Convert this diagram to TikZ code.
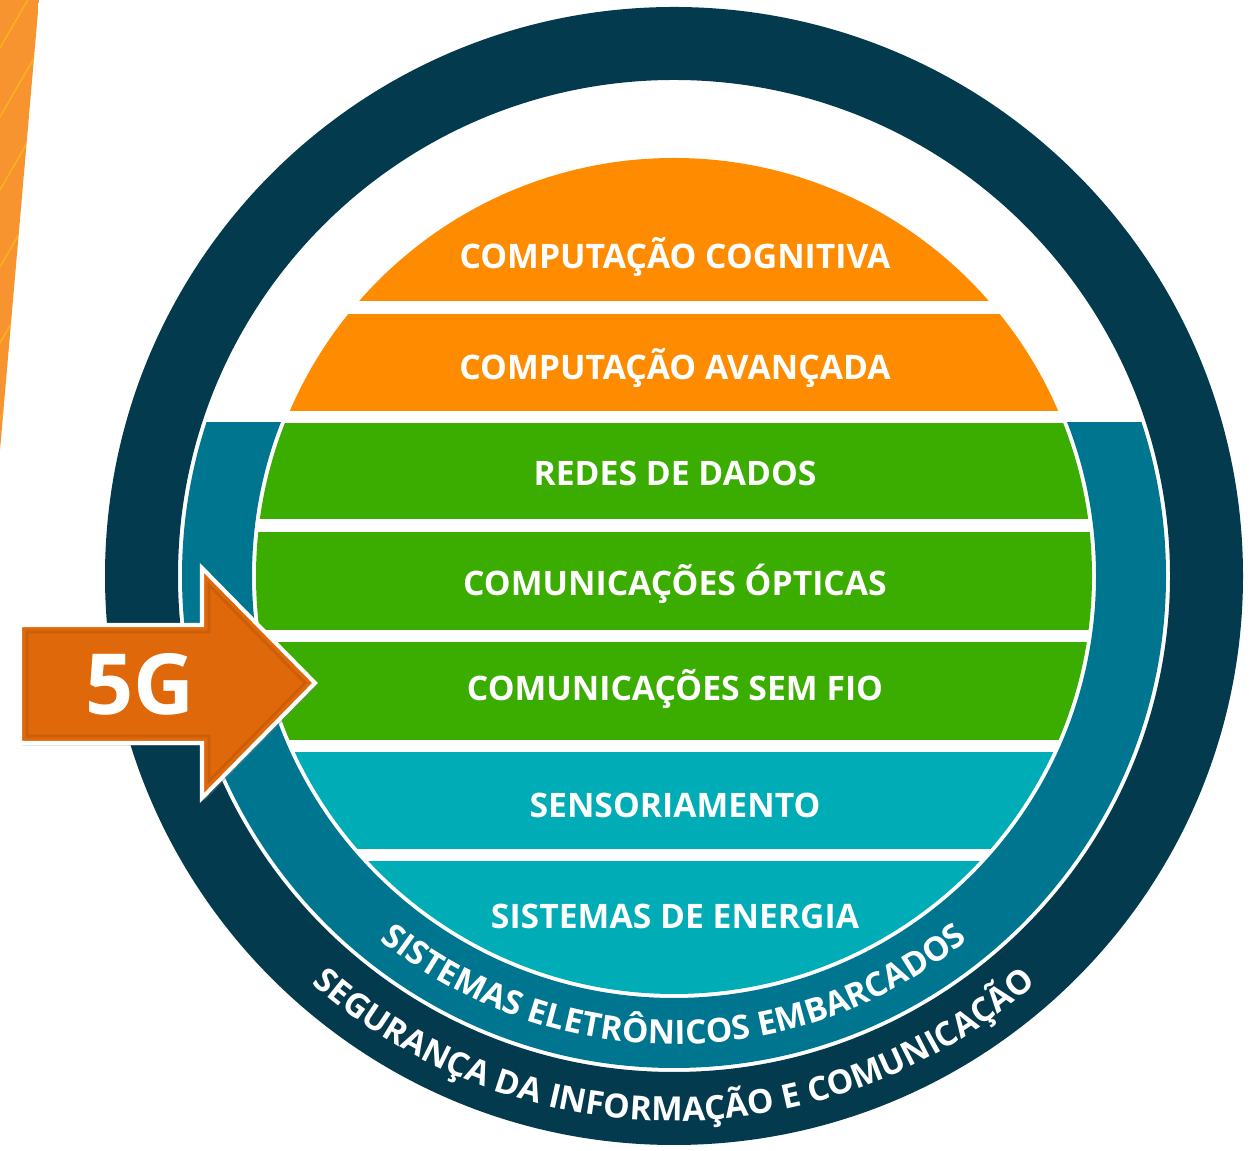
\documentclass[tikz,border=0pt]{standalone}
\usepackage{fontspec}
\setmainfont{Open Sans}
\definecolor{ringnavy}{RGB}{3,58,77}
\definecolor{ringteal}{RGB}{0,117,143}
\definecolor{bandorange}{RGB}{255,140,0}
\definecolor{bandgreen}{RGB}{58,173,0}
\definecolor{bandcyan}{RGB}{0,172,182}
\definecolor{arroworange}{RGB}{223,104,10}
\definecolor{stripeorange}{RGB}{247,148,48}
\usetikzlibrary{decorations.text,shadows}
\newcommand{\curvedfont}{\fontsize{19}{23}\selectfont\bfseries\color{white}}

\begin{document}
\begin{tikzpicture}[x=0.02cm, y=0.02cm,
    bandlabel/.style={text=white, font=\fontsize{19.2}{23}\selectfont\bfseries, inner sep=0pt},
    curvedlabel/.style={decorate, decoration={text along path, text align=center, text={|\curvedfont|#1}}}]
  \useasboundingbox (0,0) rectangle (1250,1151);
  \coordinate (c) at (674,575);

  % Orange stripe, top left
  \begin{scope}
    \clip (0,1151) -- (39,1151) -- (0,701) -- cycle;
    \fill[stripeorange] (0,701) rectangle (39,1151);
    \foreach \y in {1103,1034,961,884,808,732}
      \draw[yellow!60!orange, opacity=.6, line width=0.8pt] (0,\y) -- ++(60:120);
  \end{scope}

  % Outer ring
  \fill[ringnavy, even odd rule] (c) circle (569) (c) circle (496);

  % Inner ring, lower part only
  \begin{scope}
    \clip (0,0) rectangle (1250,728);
    \fill[ringteal, even odd rule] (c) circle (492) (c) circle (422);
  \end{scope}

  % Layers
  \begin{scope}
    \clip (c) circle (418);
    \fill[bandorange] (0,850) rectangle (1250,1000);
    \fill[bandorange] (0,740) rectangle (1250,837);
    \fill[bandgreen]  (0,632) rectangle (1250,728);
    \fill[bandgreen]  (0,521) rectangle (1250,619);
    \fill[bandgreen]  (0,411) rectangle (1250,509);
    \fill[bandcyan]   (0,302) rectangle (1250,399);
    \fill[bandcyan]   (0,100) rectangle (1250,290);
  \end{scope}

  % Layer labels
  \node[bandlabel] (cognitiva) at (675,894) {COMPUTAÇÃO COGNITIVA};
  \node[bandlabel] (avancada)  at (675,783) {COMPUTAÇÃO AVANÇADA};
  \node[bandlabel] (redes)     at (675,678) {REDES DE DADOS};
  \node[bandlabel] (opticas)   at (675,567) {COMUNICAÇÕES ÓPTICAS};
  \node[bandlabel] (semfio)    at (675,462) {COMUNICAÇÕES SEM FIO};
  \node[bandlabel] (sensor)    at (675,346) {SENSORIAMENTO};
  \node[bandlabel] (energia)   at (675,235) {SISTEMAS DE ENERGIA};

  % Ring labels
  \path[curvedlabel={SISTEMAS ELETRÔNICOS EMBARCADOS}] (c) ++(200:468) arc (200:340:468);
  \path[curvedlabel={SEGURANÇA DA INFORMAÇÃO E COMUNICAÇÃO}] (c) ++(200:545) arc (200:340:545);

  % 5G arrow
  \path[fill=arroworange, draw=white, line width=2.3pt, line join=miter,
        drop shadow={shadow xshift=1.5pt, shadow yshift=-1.5pt, opacity=.35}]
    (20,408) -- (20,526) -- (202,526) -- (202,583) -- (315,468) -- (202,353) -- (202,408) -- cycle;
  \draw[arroworange!75!black, opacity=.35, line width=1.6pt]
    (27,415) -- (27,519) -- (209,519) -- (209,566) -- (305,468) -- (209,370) -- (209,415) -- cycle;
  \node[text=white, font=\fontsize{48}{56}\selectfont\bfseries, inner sep=0pt] (fiveg) at (140,467) {5G};
\end{tikzpicture}
\end{document}
